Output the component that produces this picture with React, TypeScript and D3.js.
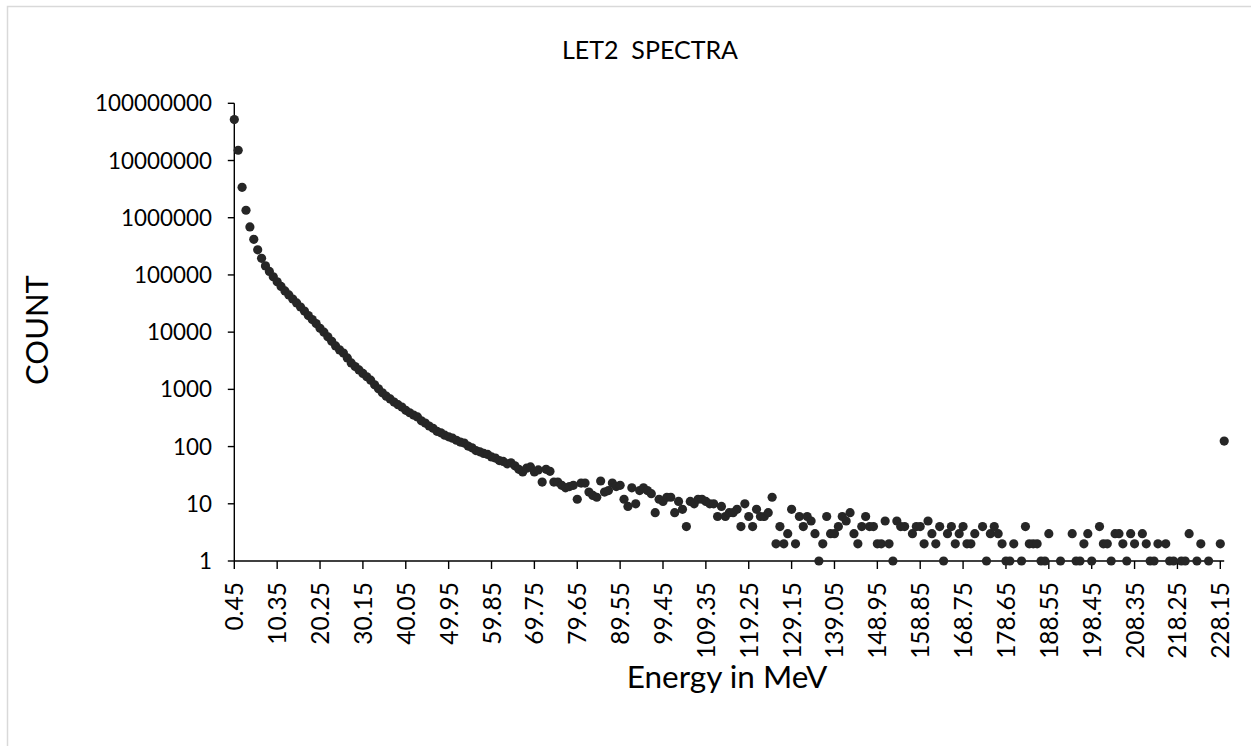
import React from 'react';
import * as d3 from 'd3';

// Counts per 0.9 MeV bin (bin centres 0.45, 1.35, ... 229.05 MeV); 0 = empty bin (not drawn on log axis)
const counts: number[] = [
  52000000, 15100000, 3400000, 1350000, 690000, 420000, 275000, 195000, 144000, 115000,
  93000, 76000, 63000, 52500, 44700, 38000, 32400, 27500, 23400, 19500,
  16600, 14100, 11700, 10000, 8300, 6900, 5750, 4900, 4300, 3550,
  2900, 2510, 2190, 1900, 1660, 1450, 1200, 1020, 870, 760,
  680, 600, 540, 490, 430, 390, 355, 330, 282, 257,
  229, 209, 185, 174, 158, 148, 140, 129, 120, 115,
  102, 95, 85, 81, 76, 73, 66, 63, 57, 55,
  50, 52, 46, 40, 36, 42, 44, 36, 39, 24,
  40, 37, 24, 24, 21, 19, 20, 21, 12, 23,
  23, 16, 14, 13, 25, 16, 17, 23, 20, 21,
  12, 9, 19, 10, 17, 19, 17, 15, 7, 12,
  11, 13, 13, 7, 11, 8, 4, 11, 10, 12,
  12, 11, 10, 10, 6, 9, 6, 7, 7, 8,
  4, 10, 6, 4, 8, 6, 6, 7, 13, 2,
  4, 2, 3, 8, 2, 6, 4, 6, 5, 3,
  1, 2, 6, 3, 3, 4, 6, 5, 7, 3,
  2, 4, 6, 4, 4, 2, 2, 5, 2, 1,
  5, 4, 4, 0, 3, 4, 4, 2, 5, 3,
  2, 4, 1, 3, 4, 2, 3, 4, 2, 2,
  3, 0, 4, 1, 3, 4, 3, 2, 1, 1,
  2, 0, 1, 4, 2, 2, 2, 1, 1, 3,
  0, 0, 1, 0, 0, 3, 1, 1, 2, 3,
  1, 0, 4, 2, 2, 1, 3, 3, 2, 1,
  3, 2, 0, 3, 2, 1, 1, 2, 0, 2,
  1, 1, 0, 1, 1, 3, 0, 1, 2, 0,
  1, 0, 0, 2, 125,
];

const binStart = 0.45;
const binWidth = 0.9;

const xTickLabels: string[] = [
  '0.45', '10.35', '20.25', '30.15', '40.05', '49.95', '59.85', '69.75',
  '79.65', '89.55', '99.45', '109.35', '119.25', '129.15', '139.05', '148.95',
  '158.85', '168.75', '178.65', '188.55', '198.45', '208.35', '218.25', '228.15',
];

const yTickValues: number[] = [1, 10, 100, 1000, 10000, 100000, 1000000, 10000000, 100000000];

const title = 'LET2  SPECTRA';
const xTitle = 'Energy in MeV';
const yTitle = 'COUNT';

export default function App() {
  const W = 1251;
  const H = 746;
  const left = 234.3;
  const right = 1224.2;
  const top = 103.3;
  const bottom = 561;
  const font = 'Lato, "Open Sans", sans-serif';

  const energies = counts.map((_, i) => binStart + binWidth * i);
  const x = d3.scaleLinear().domain([energies[0], energies[energies.length - 1]]).range([left, right]);
  const y = d3.scaleLog().domain([1, 1e8]).range([bottom, top]);

  const pts = counts
    .map((c, i) => ({ e: energies[i], c }))
    .filter((d) => d.c > 0);

  return (
    <svg
      width={W}
      height={H}
      style={{ position: 'absolute', left: 0, top: 0, background: '#fff' }}
      fontFamily={font}
    >
      <rect x={0} y={0} width={W} height={H} fill="#fff" />
      <rect x={7.5} y={6.5} width={W + 20} height={H + 20} fill="none" stroke="#d9d9d9" strokeWidth={1.5} />

      <text x={650} y={59} textAnchor="middle" fontSize={25} fill="#000" style={{ whiteSpace: 'pre' }}>
        {title}
      </text>

      {/* y axis */}
      <line x1={left} x2={left} y1={top} y2={bottom} stroke="#000" strokeWidth={1.4} />
      {yTickValues.map((v) => (
        <g key={v}>
          <line x1={left - 6.5} x2={left} y1={y(v)} y2={y(v)} stroke="#000" strokeWidth={1.4} />
          <text x={212} y={y(v)} dy="0.36em" textAnchor="end" fontSize={22.4} fill="#000">
            {String(v)}
          </text>
        </g>
      ))}

      {/* x axis */}
      <line x1={left} x2={right} y1={bottom} y2={bottom} stroke="#000" strokeWidth={1.4} />
      {xTickLabels.map((lab) => {
        const px = x(parseFloat(lab));
        return (
          <g key={lab}>
            <line x1={px} x2={px} y1={bottom} y2={bottom + 8} stroke="#000" strokeWidth={1.4} />
            <text
              transform={`translate(${px + 9},${582}) rotate(-90)`}
              textAnchor="end"
              fontSize={24.5}
              fill="#000"
            >
              {lab}
            </text>
          </g>
        );
      })}

      {/* points */}
      {pts.map((d, i) => (
        <circle key={i} cx={x(d.e)} cy={y(d.c)} r={4.6} fill="#262626" />
      ))}

      <text x={727} y={688} textAnchor="middle" fontSize={31.5} fill="#000">
        {xTitle}
      </text>
      <text transform={`translate(48,330) rotate(-90)`} textAnchor="middle" fontSize={31} fill="#000">
        {yTitle}
      </text>
    </svg>
  );
}
